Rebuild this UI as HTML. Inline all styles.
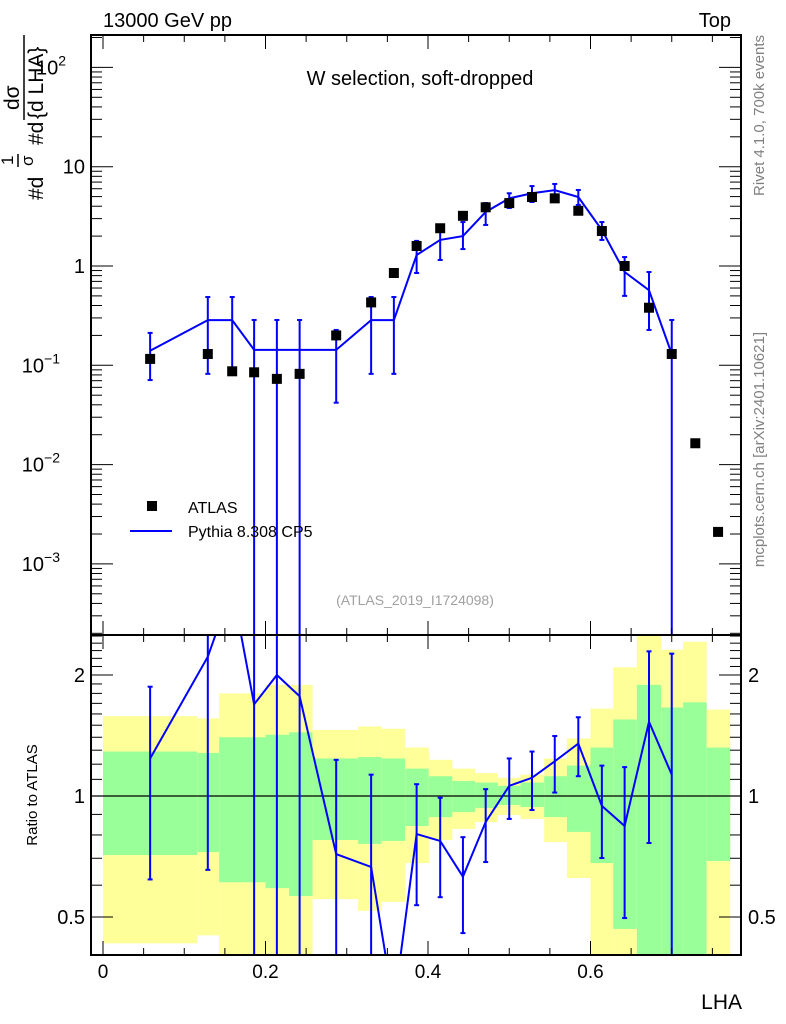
<!DOCTYPE html>
<html><head><meta charset="utf-8"><style>
html,body{margin:0;background:#fff;overflow:hidden;width:786px;height:1024px;}
svg{display:block;font-family:"Liberation Sans",sans-serif;overflow:hidden;}
</style></head><body>
<svg id="c" width="786" height="1024" xmlns="http://www.w3.org/2000/svg"></svg>
<script>
const dataX=[0.058,0.129,0.159,0.186,0.214,0.242,0.287,0.330,0.358,0.386,0.415,0.443,0.471,0.500,0.528,0.556,0.585,0.614,0.642,0.672,0.700,0.729,0.757];
const dataY=[0.116,0.13,0.087,0.085,0.073,0.082,0.20,0.43,0.85,1.59,2.4,3.2,3.9,4.3,4.95,4.8,3.6,2.25,1.0,0.38,0.13,0.0164,0.0021];
const mcY=[0.14,0.285,0.285,0.143,0.143,0.143,0.143,0.285,0.285,1.29,1.83,2.0,3.5,4.8,5.4,5.8,4.95,2.3,0.87,0.57,0.13];
const mcUp=[0.212,0.487,0.487,0.286,0.286,0.286,0.227,0.487,0.487,1.79,2.47,2.77,4.3,5.4,6.38,6.7,5.83,2.77,1.23,0.87,0.286];
const mcDn=[0.071,0.082,0.082,1e-6,1e-6,1e-6,0.042,0.082,0.082,0.85,1.15,1.48,2.59,3.84,4.41,4.73,4.12,1.83,0.5,0.227,1e-6];
const ratio=[1.24,2.22,3.3,1.69,2.0,1.77,0.717,0.666,0.3,0.804,0.773,0.63,0.862,1.06,1.11,1.22,1.35,0.945,0.842,1.53,1.13];
const ratioUp=[1.87,9,3.3,9,9,9,1.23,1.13,0.3,1.07,0.99,0.79,1.04,1.24,1.29,1.41,1.57,1.19,1.18,2.29,2.26];
const ratioDn=[0.62,0.655,3.3,0.1,0.1,0.1,0.1,0.1,0.3,0.535,0.56,0.456,0.685,0.877,0.923,1.02,1.12,0.701,0.497,0.764,0.1];
const bandEdges=[0,0.116,0.143,0.2,0.229,0.258,0.314,0.343,0.372,0.401,0.43,0.458,0.486,0.514,0.543,0.571,0.6,0.628,0.657,0.687,0.714,0.743,0.772];
const yelUp=[1.58,1.56,1.80,1.89,1.89,1.46,1.49,1.47,1.32,1.23,1.17,1.14,1.11,1.13,1.24,1.39,1.65,2.09,2.6,2.31,2.42,1.64];
const grnUp=[1.29,1.28,1.40,1.42,1.44,1.24,1.25,1.24,1.17,1.12,1.09,1.08,1.06,1.08,1.12,1.19,1.32,1.55,1.89,1.66,1.71,1.32];
const grnDn=[0.713,0.725,0.61,0.59,0.564,0.777,0.76,0.773,0.842,0.886,0.912,0.934,0.95,0.939,0.886,0.814,0.681,0.467,0.3,0.3,0.3,0.689];
const yelDn=[0.43,0.45,0.3,0.3,0.3,0.554,0.518,0.545,0.681,0.777,0.828,0.862,0.897,0.877,0.768,0.625,0.3,0.3,0.3,0.3,0.3,0.3];
const xTicks=[0,0.2,0.4,0.6];
const mainTicks=[[100,"10","2"],[10,"10",""],[1,"1",""],[0.1,"10","−1"],[0.01,"10","−2"],[0.001,"10","−3"]];
const ratioTicks=[[2,"2"],[1,"1"],[0.5,"0.5"]];

const NS="http://www.w3.org/2000/svg";
const svg=document.getElementById('c');
const L=91,R=741,T=35,M=635,B=955;
const X=v=>103+812.5*v;
const Y=v=>266-99.3*Math.log10(v);
const RY=r=>796-402*Math.log10(r);
const clamp=(v,a,b)=>Math.max(a,Math.min(b,v));
function el(tag,attrs,parent){const e=document.createElementNS(NS,tag);for(const k in attrs)e.setAttribute(k,attrs[k]);(parent||svg).appendChild(e);return e;}
function txt(s,attrs,parent){const e=el('text',attrs,parent);e.textContent=s;return e;}

const bands=el('g',{});


for(let i=0;i<yelUp.length;i++){
  const x0=X(bandEdges[i]),x1=X(bandEdges[i+1]);
  const yt=clamp(RY(yelUp[i]),M,B),yb=clamp(RY(yelDn[i]),M,B);
  const r1=el('rect',{x:x0,y:yt,width:x1-x0,height:yb-yt,fill:'#ffff99'},bands);
  
  
  const gt=clamp(RY(grnUp[i]),M,B),gb=clamp(RY(grnDn[i]),M,B);
  const r2=el('rect',{x:x0,y:gt,width:x1-x0,height:gb-gt,fill:'#99ff99'},bands);
  
  
}
const one=el('line',{x1:L,x2:R,y1:RY(1),y2:RY(1),stroke:'#000','stroke-width':1.3});



const defs=el('defs',{});
const cp=el('clipPath',{id:'cm'},defs);el('rect',{x:L,y:T,width:R-L,height:M-T},cp);
const cp2=el('clipPath',{id:'cr'},defs);el('rect',{x:L,y:M,width:R-L,height:B-M},cp2);

const gm=el('g',{'clip-path':'url(#cm)'});


let pts=mcY.map((v,i)=>X(dataX[i])+','+Y(v)).join(' ');
el('polyline',{points:pts,fill:'none',stroke:'#0000ff','stroke-width':2},gm);
mcY.forEach((v,i)=>{
  const x=X(dataX[i]),yu=Y(mcUp[i]),yd=Math.min(Y(mcDn[i]),M+5);
  const e=el('line',{x1:x,x2:x,y1:yu,y2:yd,stroke:'#0000ff','stroke-width':2},gm);
  
  
  el('line',{x1:x-2.5,x2:x+2.5,y1:yu,y2:yu,stroke:'#0000ff','stroke-width':2},gm);
  if(yd<M) el('line',{x1:x-2.5,x2:x+2.5,y1:yd,y2:yd,stroke:'#0000ff','stroke-width':2},gm);
});
const gd=el('g',{});


dataY.forEach((v,i)=>{
  const r=el('rect',{x:X(dataX[i])-5,y:Y(v)-5,width:10,height:10,fill:'#000'},gd);
  
  
});

const gr=el('g',{'clip-path':'url(#cr)'});


el('polyline',{points:ratio.map((r,i)=>X(dataX[i])+','+RY(r)).join(' '),fill:'none',stroke:'#0000ff','stroke-width':2},gr);
ratio.forEach((r,i)=>{
  const x=X(dataX[i]),yu=RY(ratioUp[i]),yd=RY(ratioDn[i]);
  if(Math.abs(yu-yd)<1) return;
  const e=el('line',{x1:x,x2:x,y1:yu,y2:yd,stroke:'#0000ff','stroke-width':2},gr);
  
  
  if(yu>M) el('line',{x1:x-2.5,x2:x+2.5,y1:yu,y2:yu,stroke:'#0000ff','stroke-width':2},gr);
  if(yd<B) el('line',{x1:x-2.5,x2:x+2.5,y1:yd,y2:yd,stroke:'#0000ff','stroke-width':2},gr);
});

const f1=el('rect',{x:L,y:T,width:R-L,height:M-T,fill:'none',stroke:'#000','stroke-width':2});


const f2=el('rect',{x:L,y:M,width:R-L,height:B-M,fill:'none',stroke:'#000','stroke-width':2});



const gx=el('g',{stroke:'#000','stroke-width':1});


for(let k=0;k<=15;k++){
  const v=k*0.05,x=X(v);if(x>R)break;
  const len=(k%4==0)?14:7;
  [[T,1],[M,-1],[M,1],[B,-1]].forEach(([y0,d])=>el('line',{x1:x,x2:x,y1:y0,y2:y0+d*len},gx));
}
xTicks.forEach(v=>{
  const t=txt(String(v),{x:X(v),y:978,'font-size':19,'text-anchor':'middle'});
  
  
});
const xl=txt('LHA',{x:742,y:1009,'font-size':21,'text-anchor':'end'});



const gy=el('g',{stroke:'#000','stroke-width':1});


for(let e=-4;e<=2;e++){
  for(let m=1;m<10;m++){
    const y=Y(m*Math.pow(10,e));if(y<T||y>M)continue;
    const len=m==1?22:11;
    el('line',{x1:L,x2:L+len,y1:y,y2:y},gy);
    el('line',{x1:R,x2:R-len,y1:y,y2:y},gy);
  }
}
mainTicks.forEach(([v,b,s])=>{
  const t=txt('',{x:s?70:85,y:Y(v)+7,'font-size':20,'text-anchor':'end'});
  
  
  const t1=el('tspan',{},t);t1.textContent=b;
  if(s){const t2=el('tspan',{dy:-9,'font-size':14},t);t2.textContent=s;t.setAttribute('x',s.length>1?60:66);}
});
const gry=el('g',{stroke:'#000','stroke-width':1});


[0.4,0.5,0.6,0.7,0.8,0.9,1,1.1,1.2,1.3,1.4,1.5,1.6,1.7,1.8,1.9,2,2.1,2.2,2.3,2.4,2.5].forEach(v=>{
  const y=RY(v);if(y<M||y>B)return;
  const len=(v==0.5||v==1||v==2)?22:11;
  el('line',{x1:L,x2:L+len,y1:y,y2:y},gry);
  el('line',{x1:R,x2:R-len,y1:y,y2:y},gry);
});
ratioTicks.forEach(([v,s])=>{
  const a=txt(s,{x:85,y:RY(v)+7,'font-size':20,'text-anchor':'end'});
  
  
  const b=txt(s,{x:748,y:RY(v)+7,'font-size':20});
  
  
});

function lab(s,name,a){const t=txt(s,a);return t;}
lab('13000 GeV pp','energy-label',{x:103,y:27,'font-size':20});
lab('Top','process-label',{x:731,y:27,'font-size':20,'text-anchor':'end'});
lab('W selection, soft-dropped','plot-title',{x:420,y:85,'font-size':20,'text-anchor':'middle'});
lab('(ATLAS_2019_I1724098)','analysis-id',{x:415,y:605,'font-size':14,fill:'#a0a0a0','text-anchor':'middle'});
lab('Rivet 4.1.0,  700k events','rivet-version',{x:0,y:0,'font-size':15,fill:'#808080','text-anchor':'end',transform:'translate(764,35) rotate(-90)'});
lab('mcplots.cern.ch [arXiv:2401.10621]','mcplots-credit',{x:0,y:0,'font-size':15,fill:'#808080','text-anchor':'end',transform:'translate(764,332) rotate(-90)'});
lab('Ratio to ATLAS','ratio-y-title',{x:0,y:0,'font-size':15,'text-anchor':'middle',transform:'translate(37,795) rotate(-90)'});
const yt=el('g',{transform:'translate(43,200) rotate(-90)'});


txt('#d',{x:0,y:0,'font-size':21},yt);
txt('1',{x:35,y:-30,'font-size':17},yt);
el('line',{x1:33,x2:46,y1:-25,y2:-25,stroke:'#000','stroke-width':1.5},yt);
txt('σ',{x:34,y:-10,'font-size':17},yt);
txt('#d',{x:55,y:0,'font-size':21},yt);
txt('dσ',{x:90,y:-24,'font-size':21},yt);
el('line',{x1:80,x2:165,y1:-19,y2:-19,stroke:'#000','stroke-width':1.5},yt);
txt('{d LHA}',{x:81,y:0,'font-size':21},yt);
const lg=el('g',{});


const l1=el('rect',{x:147,y:501,width:10,height:10,fill:'#000'},lg);


txt('ATLAS',{x:188,y:513,'font-size':16},lg);
const l2=el('line',{x1:130,x2:172,y1:531,y2:531,stroke:'#0000ff','stroke-width':2},lg);


txt('Pythia 8.308 CP5',{x:188,y:537,'font-size':16},lg);
</script>
</body></html>
